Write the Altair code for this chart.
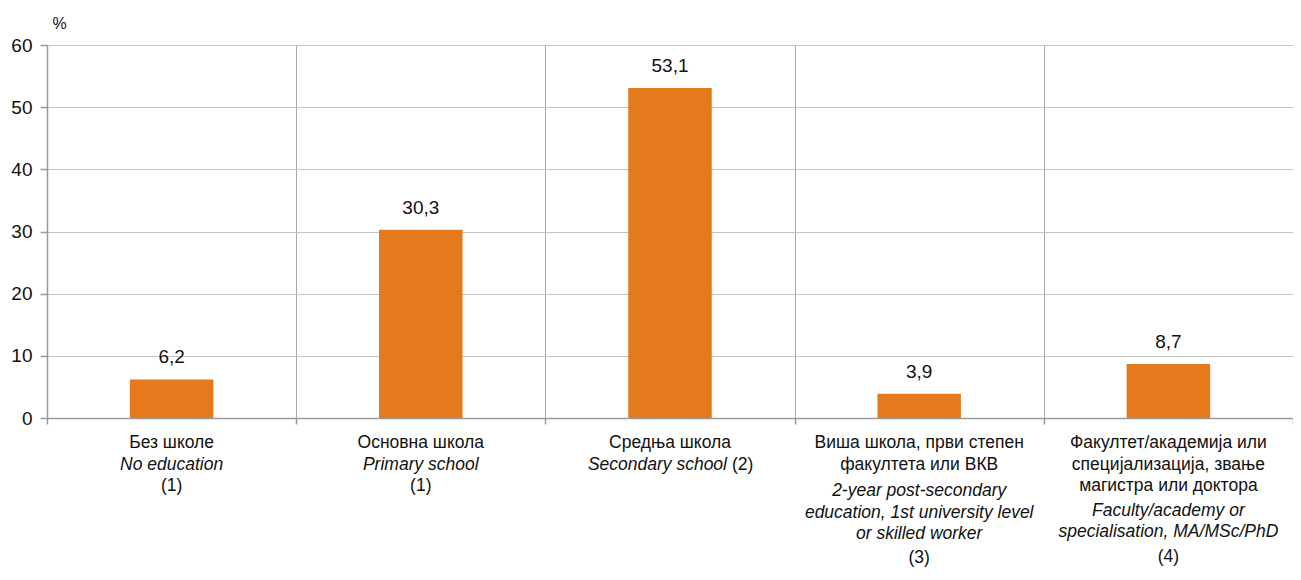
import altair as alt
import pandas as pd

FONT = "Liberation Sans, Arial, Helvetica, sans-serif"

# --- data -----------------------------------------------------------------
categories = ["Без школе", "Основна школа", "Средња школа", "Виша школа", "Факултет"]
shares = [6.2, 30.3, 53.1, 3.9, 8.7]

# multi-line category labels (line row, text, style, part of a line)
label_cat = [
    "Без школе", "Без школе", "Без школе",
    "Основна школа", "Основна школа", "Основна школа",
    "Средња школа", "Средња школа", "Средња школа",
    "Виша школа", "Виша школа", "Виша школа", "Виша школа", "Виша школа", "Виша школа",
    "Факултет", "Факултет", "Факултет", "Факултет", "Факултет", "Факултет",
]
label_row = [
    0, 1, 2,
    0, 1, 2,
    0, 1, 1,
    0, 1, 2.25, 3.25, 4.25, 5.35,
    0, 1, 2, 3.15, 4.15, 5.3,
]
label_text = [
    "Без школе", "No education", "(1)",
    "Основна школа", "Primary school", "(1)",
    "Средња школа", "Secondary school", "(2)",
    "Виша школа, први степен", "факултета или ВКВ", "2-year post-secondary",
    "education, 1st university level", "or skilled worker", "(3)",
    "Факултет/академија или", "специјализација, звање", "магистра или доктора",
    "Faculty/academy or", "specialisation, MA/MSc/PhD", "(4)",
]
label_style = [
    "normal", "italic", "normal",
    "normal", "italic", "normal",
    "normal", "italic", "normal",
    "normal", "normal", "italic", "italic", "italic", "normal",
    "normal", "normal", "normal", "italic", "italic", "normal",
]
label_part = [
    "c", "c", "c",
    "c", "c", "c",
    "c", "r", "l",
    "c", "c", "c", "c", "c", "c",
    "c", "c", "c", "c", "c", "c",
]

bars_df = pd.DataFrame({
    "cat": categories,
    "share": shares,
    "label": [f"{v:.1f}".replace(".", ",") for v in shares],
})
labels_df = pd.DataFrame({
    "cat": label_cat, "row": label_row, "text": label_text,
    "style": label_style, "part": label_part,
})

# --- chart ----------------------------------------------------------------
AX = "#9A9A9A"
x_scale = alt.Scale(domain=categories, paddingInner=0, paddingOuter=0)
y_scale = alt.Scale(domain=[0, 60], nice=False)

y_axis = alt.Axis(values=[0, 10, 20, 30, 40, 50, 60], grid=True,
                  gridColor="#C4C4C4", gridWidth=1.2, domainColor=AX,
                  domainWidth=1.5, tickColor=AX, tickWidth=1.5, tickSize=7,
                  labelFontSize=19, labelColor="#111111", labelPadding=8,
                  title="%", titleAngle=0, titleX=12, titleY=-14,
                  titleAlign="center", titleFontSize=16,
                  titleFontWeight="normal", titleColor="#111111")

bars = alt.Chart(bars_df).mark_bar(color="#E57A1C", width={"band": 0.335}).encode(
    x=alt.X("cat:N", sort=categories, scale=x_scale,
            axis=alt.Axis(labels=False, title=None, tickBand="extent", grid=True,
                          gridColor="#A8A8A8", gridWidth=1, domainColor=AX,
                          domainWidth=1.5, tickColor=AX, tickWidth=1.5, tickSize=6)),
    y=alt.Y("share:Q", scale=y_scale, axis=y_axis),
)

values = alt.Chart(bars_df).mark_text(
    font=FONT, fontSize=19, color="#111111", baseline="alphabetic", dy=-16
).encode(
    x=alt.X("cat:N", sort=categories, scale=x_scale),
    y=alt.Y("share:Q", scale=y_scale, axis=y_axis),
    text="label:N",
)

row_scale = alt.Scale(domain=[0, 6], range=[398, 527])


def label_layer(style, part, align, dx):
    return alt.Chart(labels_df).transform_filter(
        (alt.datum.style == style) & (alt.datum.part == part)
    ).mark_text(
        font=FONT, fontSize=17.5, color="#111111", fontStyle=style,
        align=align, baseline="middle", dx=dx
    ).encode(
        x=alt.X("cat:N", sort=categories, scale=x_scale),
        y=alt.Y("row:Q", scale=row_scale, axis=None),
        text="text:N",
    )


labels = alt.layer(
    label_layer("normal", "c", "center", 0),
    label_layer("italic", "c", "center", 0),
    label_layer("italic", "r", "right", 57),
    label_layer("normal", "l", "left", 62),
)

chart = alt.layer(
    alt.layer(bars, values),
    labels,
).resolve_scale(y="independent").properties(
    width=1246, height=373, autosize="none",
    padding={"left": 39, "top": 37, "right": 0, "bottom": 153},
).configure_view(stroke=None).configure_axis(
    labelFont=FONT, titleFont=FONT
)

chart.save("out.html", embed_options={"renderer": "svg", "actions": False})
